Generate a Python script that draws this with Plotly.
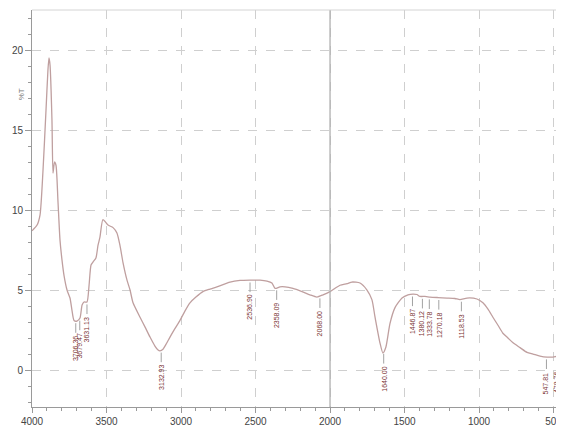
import numpy as np
import plotly.graph_objects as go

# IR spectrum (wavenumber cm-1, %T)
wavenumber = [4000, 3966, 3946, 3926, 3906, 3893, 3886, 3879, 3866, 3859, 3849, 3839, 3826, 3812,
              3799, 3785, 3765, 3745, 3732, 3718, 3698, 3678, 3664, 3651, 3631, 3617, 3604, 3591,
              3571, 3557, 3544, 3524, 3490, 3456, 3430, 3410, 3389, 3362, 3342, 3322, 3275, 3242,
              3208, 3175, 3154, 3141, 3121, 3101, 3074, 3040, 3007, 2973, 2940, 2900, 2853, 2806,
              2759, 2671, 2604, 2537, 2470, 2423, 2390, 2369, 2336, 2302, 2249, 2188, 2135, 2088,
              2047, 2000, 1933, 1886, 1853, 1799, 1752, 1719, 1698, 1665, 1645, 1625, 1598, 1564,
              1517, 1477, 1443, 1417, 1397, 1363, 1329, 1276, 1215, 1162, 1128, 1081, 1014, 974,
              940, 907, 873, 840, 806, 772, 725, 678, 638, 591, 544, 504, 470, 437]
transmittance = [8.7, 9.06, 9.7, 12.5, 16.25, 18.75, 19.5, 19.06, 15.6, 12.3, 13.0, 12.8, 10.6, 8.1,
                 6.9, 5.9, 5.0, 4.5, 3.75, 3.1, 3.06, 3.25, 4.06, 4.25, 4.25, 5.3, 6.56, 6.75,
                 7.0, 7.8, 8.3, 9.4, 9.06, 8.9, 8.56, 7.8, 6.7, 5.6, 5.0, 4.2, 3.3, 2.7,
                 2.06, 1.5, 1.25, 1.2, 1.3, 1.6, 2.06, 2.6, 3.1, 3.7, 4.2, 4.56, 4.9, 5.06,
                 5.2, 5.5, 5.6, 5.62, 5.62, 5.56, 5.44, 5.1, 5.2, 5.2, 5.1, 4.9, 4.7, 4.56,
                 4.7, 4.9, 5.3, 5.4, 5.5, 5.44, 5.0, 4.4, 3.3, 1.7, 1.06, 1.44, 2.9, 3.9,
                 4.5, 4.7, 4.75, 4.72, 4.6, 4.6, 4.56, 4.53, 4.5, 4.47, 4.4, 4.5, 4.44, 4.2,
                 3.8, 3.3, 2.8, 2.3, 2.0, 1.7, 1.4, 1.1, 1.0, 0.875, 0.81, 0.81, 0.87, 0.87]

peak_wn = [3706.36, 3679.47, 3631.13, 3132.93, 2536.90, 2358.09, 2068.00, 1640.00,
           1446.87, 1380.12, 1333.78, 1270.18, 1118.53, 547.81, 478.76, 453.76]
peak_labels = ["3706.36", "3679.47", "3631.13", "3132.93", "2536.90", "2358.09", "2068.00",
               "1640.00", "1446.87", "1380.12", "1333.78", "1270.18", "1118.53",
               "547.81", "478.76", "453.76"]

y_ticks = [0, 5, 10, 15, 20]
x_ticks = [4000, 3500, 3000, 2500, 2000, 1500, 1000, 500]

CURVE = "#bf9f9f"
LABEL = "#7a3434"

fig = go.Figure()
fig.add_trace(go.Scatter(x=wavenumber, y=transmittance, mode="lines",
                         line=dict(color=CURVE, width=1.3, shape="spline", smoothing=0.6),
                         hoverinfo="skip", showlegend=False))

# peak marker lines
wn_sorted = wavenumber[::-1]
t_sorted = transmittance[::-1]
lx, ly = [], []
for w in peak_wn:
    yc = float(np.interp(w, wn_sorted, t_sorted))
    lx += [w, w, None]
    ly += [yc - 0.15, yc - 0.75, None]
fig.add_trace(go.Scatter(x=lx, y=ly, mode="lines", line=dict(color="#8a8a8a", width=0.8),
                         hoverinfo="skip", showlegend=False))

annotations = []
for w, lab in zip(peak_wn, peak_labels):
    yc = float(np.interp(w, wn_sorted, t_sorted))
    annotations.append(dict(x=w, y=yc, text=lab, showarrow=False, textangle=-90,
                            xanchor="center", yanchor="top", yshift=-13,
                            font=dict(size=7, color=LABEL, family="Liberation Sans Narrow, Liberation Sans, Arial")))
annotations.append(dict(x=0, y=17.2, xref="paper", yref="y", text="%T", showarrow=False,
                        xshift=-17, textangle=-90,
                        font=dict(size=8, color="#777777", family="Liberation Sans")))

shapes = [
    dict(type="line", x0=2000, x1=2000, y0=0, y1=1, xref="x", yref="paper",
         line=dict(color="#b0b0b0", width=1.3)),
    dict(type="line", x0=0, x1=1, y0=1, y1=1, xref="paper", yref="paper",
         line=dict(color="#d4d4d4", width=1)),
]

# page body has an 8px margin, so the figure is sized to fill the window from there
fig.update_layout(
    width=556, height=423,
    margin=dict(l=24, r=0, t=2, b=24, autoexpand=False),
    paper_bgcolor="white", plot_bgcolor="white",
    annotations=annotations, shapes=shapes,
    font=dict(family="Liberation Sans Narrow, Liberation Sans, Arial", size=10, color="#444444"),
)
fig.update_xaxes(range=[4000, 430], tickmode="array", tickvals=x_ticks,
                 ticktext=[str(v) for v in x_ticks], automargin=False,
                 showgrid=True, gridcolor="#cfcfcf", griddash="dash", gridwidth=1,
                 showline=True, linecolor="#9a9a9a", linewidth=1,
                 ticks="outside", ticklen=5, tickcolor="#9a9a9a",
                 minor=dict(dtick=100, ticks="outside", ticklen=3, tickcolor="#9a9a9a", showgrid=False),
                 zeroline=False, tickfont=dict(size=10, color="#444444"))
fig.update_yaxes(range=[-2.31, 22.5], tickmode="array", tickvals=y_ticks,
                 ticktext=[str(v) for v in y_ticks], automargin=False,
                 showgrid=True, gridcolor="#cfcfcf", griddash="dash", gridwidth=1,
                 showline=True, linecolor="#9a9a9a", linewidth=1,
                 ticks="outside", ticklen=6, tickcolor="#9a9a9a",
                 minor=dict(dtick=1, tick0=0, ticks="outside", ticklen=3, tickcolor="#9a9a9a", showgrid=False),
                 zeroline=False, tickfont=dict(size=10, color="#444444"))

fig.write_html("out.html")
